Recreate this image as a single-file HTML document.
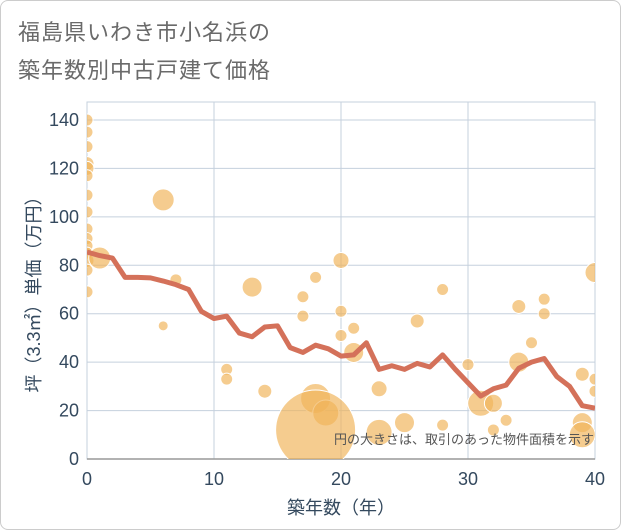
<!DOCTYPE html>
<html><head><meta charset="utf-8">
<style>
html,body{margin:0;padding:0;background:#fff;}
body{width:621px;height:530px;overflow:hidden;font-family:"Liberation Sans","Noto Sans CJK JP",sans-serif;}
#frame{position:absolute;left:0;top:0;width:619px;height:528px;border:1px solid #ccc;border-radius:8px;}
.title{position:absolute;left:18px;font-size:22px;color:#6a6a6a;letter-spacing:1px;}
</style></head>
<body>
<div id="frame"></div>
<div class="title" style="top:15px">福島県いわき市小名浜の</div>
<div class="title" style="top:53px">築年数別中古戸建て価格</div>
<svg id="chart" width="621" height="530" style="position:absolute;left:0;top:0"></svg>
<script>
const lineYears=[0,1,2,3,4,5,6,7,8,9,10,11,12,13,14,15,16,17,18,19,20,21,22,23,24,25,26,27,28,29,30,31,32,33,34,35,36,37,38,39,40];
const lineValues=[85.5,84,83,75,75,74.8,73.5,72,70,61,58,59,52,50.5,54.5,55,46,44,47,45.5,42.5,43,48,37,38.5,37,39.5,38,43,37,31.5,26,29,30.5,37.5,40,41.5,34,30,22,21];
const bubbleYears=[0,0,0,0,0,0,0,0,0,0,0,0,0,0,0,1,6,7,6,11,11,13,14,17,17,18,18,18.8,18,20,20,20,21,21,23,23,25,26,28,28,30,31,32,32,33,34,34,35,36,36,39,39,39,40,40,40];
const bubbleValues=[140,135,129,122,120,117,109,102,95,91,88,85,82,78,69,83,107,74,55,37,33,71,28,67,59,75,25,19,12,82,61,51,54,44,29,11,15,57,70,14,39,23,23,12,16,63,40,48,66,60,35,15,10,77,33,28];
const bubbleSizes=[6,6,6,7,7,6,6,6,6,6,6,6,7,6,6,11,11,6,5,6,6,10,7,6,6,6,15,13,40,8,6,6,6,10,8,13,10,7,6,6,6,13,9,6,6,7,10,6,6,6,7,10,13,10,6,6];
const xTicks=[0,10,20,30,40];
const yTicks=[0,20,40,60,80,100,120,140];
const X0=87,X1=595,Y0=459,Y1=120,YMAX=140;
const xs=v=>X0+(X1-X0)*v/40;
const ys=v=>Y0-(Y0-Y1)*v/YMAX;
const NS="http://www.w3.org/2000/svg";
const svg=document.getElementById('chart');
const TXT='#34495e';
function mk(t,a,p){const e=document.createElementNS(NS,t);for(const k in a)e.setAttribute(k,a[k]);(p||svg).appendChild(e);return e;}
const clip=mk('clipPath',{id:'pc'});mk('rect',{x:X0,y:102,width:X1-X0,height:Y0-102},clip);
const grid=mk('g',{});


mk('rect',{x:X0,y:102,width:X1-X0,height:Y0-102,fill:'none',stroke:'#c5d0dd','stroke-width':1},grid);
yTicks.forEach(v=>{
  mk('line',{x1:X0,x2:X1,y1:ys(v),y2:ys(v),stroke:'#c5d0dd','stroke-width':1},grid);
  const t=mk('text',{x:X0-8,y:ys(v)+6,'text-anchor':'end','font-size':18,fill:TXT});
  t.textContent=v;
  
  
});
xTicks.forEach(v=>{
  mk('line',{x1:xs(v),x2:xs(v),y1:102,y2:Y0,stroke:'#c5d0dd','stroke-width':1},grid);
  const t=mk('text',{x:xs(v),y:Y0+26,'text-anchor':'middle','font-size':18,fill:TXT});
  t.textContent=v;
  
  
});
mk('line',{x1:X0,x2:X1,y1:Y0,y2:Y0,stroke:'#999','stroke-width':1.5});
const bg=mk('g',{'clip-path':'url(#pc)'});


bubbleYears.forEach((yr,i)=>{
  const c=mk('circle',{cx:xs(yr),cy:ys(bubbleValues[i]),r:bubbleSizes[i],fill:'rgba(240,180,90,0.68)',stroke:'#fff','stroke-width':1},bg);
  
  
});
const pts=lineYears.map((yr,i)=>xs(yr)+','+ys(lineValues[i])).join(' ');
const pl=mk('polyline',{points:pts,fill:'none',stroke:'#d4715a','stroke-width':5,'stroke-linejoin':'round','clip-path':'url(#pc)'});


const note=mk('text',{x:594,y:444,'text-anchor':'end','font-size':13,fill:'#555'});
note.textContent='円の大きさは、取引のあった物件面積を示す';


const xt=mk('text',{x:341,y:514,'text-anchor':'middle','font-size':18,fill:TXT});
xt.textContent='築年数（年）';


const yt=mk('text',{x:0,y:0,'text-anchor':'middle','font-size':18,fill:TXT,transform:'translate(40,290) rotate(-90)'});
yt.textContent='坪（3.3㎡）単価（万円）';


</script>
</body></html>
